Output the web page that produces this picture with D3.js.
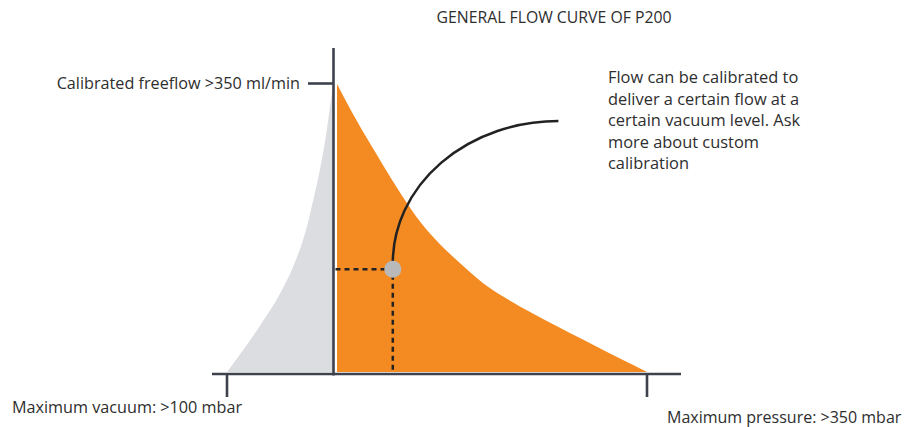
<!DOCTYPE html>
<html>
<head>
<meta charset="utf-8">
<script src="https://cdn.jsdelivr.net/npm/d3@7"></script>
<style>
  body { margin: 0; background: #fff; }
  text { font-family: "Open Sans", sans-serif; fill: #2e2e2e; }
</style>
</head>
<body>
<div id="chart"></div>
<script>
// Chart size
let svgWidth = 906;
let svgHeight = 427;

// Pressure side curve (mbar vs ml/min)
let pressureMbar = [0, 22, 45, 67, 90, 112, 135, 165, 195, 218, 244, 282, 320, 350];
let pressureFlow = [350, 306, 264, 225, 188, 160, 136, 108, 87, 73, 58, 37, 16, 0];

// Vacuum side curve (mbar, negative = vacuum)
let vacuumMbar = [-100, -88, -69, -50, -36, -26, -19, -12, -6, 0];
let vacuumFlow = [0, 21, 56, 95, 133, 170, 207, 248, 293, 350];

// Calibration point and annotation end
let calPoint = { mbar: 63, flow: 125 };
let noteEnd = { mbar: 250, flow: 305 };

// Labels
let title = "GENERAL FLOW CURVE OF P200";
let flowLabel = "Calibrated freeflow >350 ml/min";
let vacuumLabel = "Maximum vacuum: >100 mbar";
let pressureLabel = "Maximum pressure: >350 mbar";
let noteLines = [
  "Flow can be calibrated to",
  "deliver a certain flow at a",
  "certain vacuum level. Ask",
  "more about custom",
  "calibration"
];

let svg = d3.select("#chart")
  .append("svg")
  .attr("width", svgWidth)
  .attr("height", svgHeight);

// x scale is split: vacuum to the left of the axis, pressure to the right
let xVac = d3.scaleLinear().domain([-100, 0]).range([227, 333]);
let xPress = d3.scaleLinear().domain([0, 350]).range([337, 647]);
let yScale = d3.scaleLinear().domain([0, 350]).range([372, 84]);

let pressureData = pressureMbar.map((m, i) => ({ x: m, y: pressureFlow[i] }));
let vacuumData = vacuumMbar.map((m, i) => ({ x: m, y: vacuumFlow[i] }));

// gray vacuum area
svg.append("path")
  .datum(vacuumData)
  .attr("fill", "#dcdde0")
  .attr("d", d3.area()
    .x(d => xVac(d.x))
    .y0(yScale(0))
    .y1(d => yScale(d.y))
    .curve(d3.curveMonotoneX));

// orange pressure area
svg.append("path")
  .datum(pressureData)
  .attr("fill", "#f48a22")
  .attr("d", d3.area()
    .x(d => xPress(d.x))
    .y0(yScale(0))
    .y1(d => yScale(d.y))
    .curve(d3.curveMonotoneX));

let axisColor = "#3d424d";
let x0 = xVac(0) + 0.5;
let yBase = yScale(0) + 2;

// vertical axis
svg.append("line")
  .attr("x1", x0).attr("x2", x0)
  .attr("y1", 48).attr("y2", yBase + 1.5)
  .attr("stroke", axisColor).attr("stroke-width", 2.6);

// horizontal axis
svg.append("line")
  .attr("x1", 212).attr("x2", 681)
  .attr("y1", yBase).attr("y2", yBase)
  .attr("stroke", axisColor).attr("stroke-width", 2.6);

// ticks at both ends of the x axis
svg.selectAll(".xtick")
  .data([xVac(-100), xPress(350)])
  .enter()
  .append("line")
  .attr("class", "xtick")
  .attr("x1", d => d).attr("x2", d => d)
  .attr("y1", yBase).attr("y2", yBase + 23)
  .attr("stroke", axisColor).attr("stroke-width", 2.6);

// tick for free flow
svg.append("line")
  .attr("x1", 308).attr("x2", x0)
  .attr("y1", yScale(350) - 0.5).attr("y2", yScale(350) - 0.5)
  .attr("stroke", axisColor).attr("stroke-width", 2.6);

// dashed guides to calibration point
let cx = xPress(calPoint.mbar);
let cy = yScale(calPoint.flow);
svg.append("path")
  .attr("d", `M${x0 + 2},${cy}H${cx}V${yScale(0)}`)
  .attr("fill", "none")
  .attr("stroke", "#222")
  .attr("stroke-width", 2.5)
  .attr("stroke-dasharray", "5,4");

// arc annotation
let ex = xPress(noteEnd.mbar);
let ey = yScale(noteEnd.flow);
svg.append("path")
  .attr("d", `M${cx},${cy - 6}A${ex - cx},${cy - 6 - ey} 0 0 1 ${ex},${ey}`)
  .attr("fill", "none")
  .attr("stroke", "#222")
  .attr("stroke-width", 2.5);

svg.append("circle")
  .attr("cx", cx).attr("cy", cy)
  .attr("r", 8.5)
  .attr("fill", "#b9b9b9");

// texts
svg.append("text")
  .attr("x", 554).attr("y", 23)
  .attr("text-anchor", "middle")
  .style("font-size", "15.8px")
  .text(title);

svg.append("text")
  .attr("x", 300).attr("y", 89)
  .attr("text-anchor", "end")
  .style("font-size", "16.2px")
  .text(flowLabel);

svg.append("text")
  .attr("x", 12).attr("y", 413)
  .style("font-size", "16.2px")
  .text(vacuumLabel);

svg.append("text")
  .attr("x", 667).attr("y", 423)
  .style("font-size", "16px")
  .text(pressureLabel);

svg.append("g")
  .selectAll("text")
  .data(noteLines)
  .enter()
  .append("text")
  .attr("x", 608)
  .attr("y", (d, i) => 83 + i * 21.6)
  .style("font-size", "16.4px")
  .text(d => d);
</script>
</body>
</html>
